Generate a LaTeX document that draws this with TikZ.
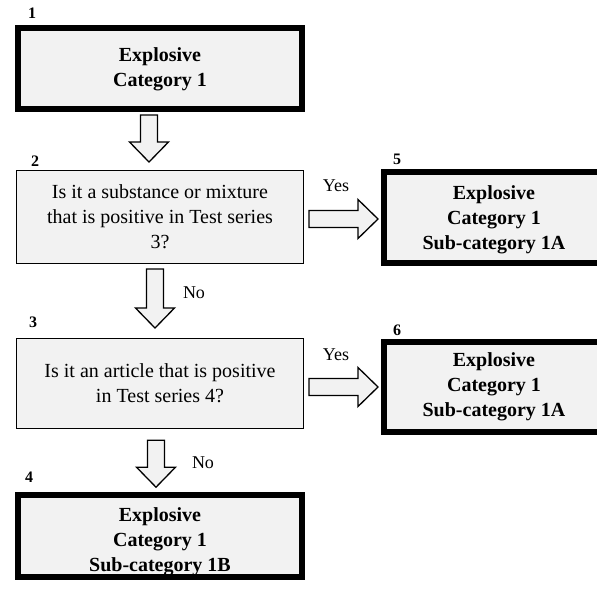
\documentclass[tikz,border=0pt]{standalone}
\usepackage{fontspec}
\setmainfont{Liberation Serif}
\usetikzlibrary{calc}
\definecolor{boxfill}{HTML}{F2F2F2}
\tikzset{
  every node/.style={inner sep=0pt, outer sep=0pt},
  box/.style={draw=black, fill=boxfill, align=center, text=black,
    font=\fontsize{20}{25}\selectfont},
  thinbox/.style={box, line width=1.5pt, minimum width=286.6pt, minimum height=92.6pt},
  thickbox/.style={box, line width=6pt, font=\fontsize{20}{25}\selectfont\bfseries},
  boxtext/.style={align=center, text=black, font=\fontsize{20}{25}\selectfont\bfseries},
  num/.style={font=\fontsize{16}{16}\selectfont\bfseries},
  answer/.style={font=\fontsize{18}{18}\selectfont},
  fatarrow/.style={draw=black, fill=boxfill, line width=1.3pt, line join=miter},
}
% hollow block arrow: #1 start point, #2 direction, #3 length
\newcommand\fatarrow[3]{%
  \draw[fatarrow, shift={#1}, rotate=#2]
    (0,-8.5) -- (#3-20,-8.5) -- (#3-20,-19.5) -- (#3,0) -- (#3-20,19.5)
    -- (#3-20,8.5) -- (0,8.5) -- cycle;}
\begin{document}
\begin{tikzpicture}[x=1pt, y=-1pt]
  \clip (0,0) rectangle (597,590);
  \useasboundingbox (0,0) rectangle (597,590);

  % decision chain
  \node[thickbox, minimum width=284pt, minimum height=81pt] (b1) at (160,68.5) {};
  \node[boxtext] (t1) at ($(b1)+(0,1)$) {Explosive\\Category 1};
  \node[thinbox] (b2) at (160,217)
    {Is it a substance or mixture\\that is positive in Test series\\3?};
  \node[thinbox, minimum height=90pt] (b3) at (160,383.5)
    {Is it an article that is positive\\in Test series 4?};
  \node[thickbox, minimum width=284pt, minimum height=82pt] (b4) at (160,536) {};
  \node[boxtext] (t4) at ($(b4)+(0,6)$) {Explosive\\Category 1\\Sub-category 1B};
  \node[thickbox, minimum width=220pt, minimum height=91pt] (b5) at (494,217.5) {};
  \node[boxtext] (t5) at ($(b5)+(0,2)$) {Explosive\\Category 1\\Sub-category 1A};
  \node[thickbox, minimum width=220pt, minimum height=90pt] (b6) at (494,387) {};
  \node[boxtext] (t6) at (b6) {Explosive\\Category 1\\Sub-category 1A};

  % box numbers
  \node[num] (n1) at (32,13) {1};
  \node[num] (n2) at (35,161) {2};
  \node[num] (n3) at (33,322) {3};
  \node[num] (n4) at (29,477) {4};
  \node[num] (n5) at (397,159) {5};
  \node[num] (n6) at (397,330) {6};

  % arrows between boxes
  \fatarrow{($(b1.south)+(-11,6)$)}{-90}{47}
  \fatarrow{($(b2.south)+(-5,5.7)$)}{-90}{59}
  \fatarrow{($(b3.south)+(-4,11.7)$)}{-90}{47}
  \fatarrow{($(b2.east)+(5.7,2)$)}{0}{69}
  \fatarrow{($(b3.east)+(5.7,3.5)$)}{0}{69}

  % answers
  \node[answer] (y1) at (336,186) {Yes};
  \node[answer] (y2) at (336,355) {Yes};
  \node[answer] (no1) at (194,293) {No};
  \node[answer] (no2) at (203,463) {No};
\end{tikzpicture}
\end{document}
